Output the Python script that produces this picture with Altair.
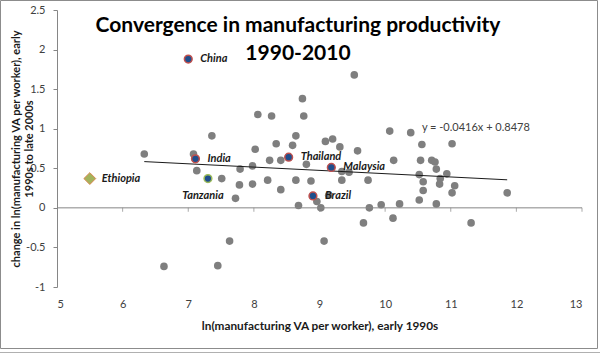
import altair as alt
import pandas as pd

# ---- data ----
gray_x = [6.33, 7.08, 7.13, 7.36, 7.51, 7.79, 7.78, 7.72, 7.63, 6.63, 7.45,
          7.98, 8.21, 8.41, 8.64, 8.68, 8.74, 8.06, 8.27, 8.76, 8.64,
          9.09, 9.20, 9.31, 8.34, 8.59, 8.02, 8.24, 8.41, 7.98, 8.80,
          8.87, 8.96, 9.02, 9.34, 9.45, 9.34, 9.74, 9.53, 10.07, 10.39,
          9.58, 10.13, 10.54, 10.52, 9.14, 9.76, 9.94, 10.22, 10.52, 9.67,
          10.12, 9.07, 10.58, 10.58, 10.78, 10.84, 10.83, 10.94, 11.06, 11.02,
          11.31, 11.86, 10.56, 11.02, 10.71, 10.76, 10.78]
gray_y = [0.68, 0.68, 0.47, 0.91, 0.37, 0.49, 0.29, 0.12, -0.42, -0.74, -0.73,
          0.30, 0.35, 0.23, 0.35, 0.03, 1.38, 1.18, 1.16, 1.16, 0.91,
          0.84, 0.87, 0.77, 0.81, 0.79, 0.74, 0.60, 0.60, 0.53, 0.55,
          0.34, 0.08, 0.00, 0.46, 0.45, 0.35, 0.35, 1.68, 0.97, 0.95,
          0.72, 0.60, 0.60, 0.42, 0.16, 0.00, 0.04, 0.05, 0.10, -0.19,
          -0.13, -0.42, 0.33, 0.22, 0.05, 0.37, 0.30, 0.43, 0.28, 0.19,
          -0.19, 0.19, 0.80, 0.81, 0.60, 0.58, 0.49]

hl_names = ["China", "India", "Thailand", "Malaysia", "Brazil"]
hl_x = [7.00, 7.11, 8.53, 9.18, 8.90]
hl_y = [1.88, 0.62, 0.64, 0.51, 0.15]

tz_names = ["Tanzania"]
tz_x = [7.30]
tz_y = [0.37]

et_names = ["Ethiopia"]
et_x = [5.50]
et_y = [0.37]

trend_slope = -0.0416
trend_intercept = 0.8478
trend_label = ["y = -0.0416x + 0.8478"]

x_ticks = [5, 6, 7, 8, 9, 10, 11, 12, 13]
y_ticks = [-1, -0.5, 0, 0.5, 1, 1.5, 2, 2.5]

title_lines = ["Convergence in manufacturing productivity", "1990-2010"]
x_title = "ln(manufacturing  VA per worker), early 1990s"
y_title = ["change  in ln(manufacturing  VA per worker), early", "1990s to late 2000s"]

FONT = "Lato"
AXIS_GRAY = "#868686"
W, H = 525, 277

gray_df = pd.DataFrame({"x": gray_x, "y": gray_y})
hl_df = pd.DataFrame({"name": hl_names, "x": hl_x, "y": hl_y})
tz_df = pd.DataFrame({"name": tz_names, "x": tz_x, "y": tz_y})
et_df = pd.DataFrame({"name": et_names, "x": et_x, "y": et_y})
tx = [min(gray_x), max(gray_x)]
trend_df = pd.DataFrame({"x": tx, "y": [trend_slope * v + trend_intercept for v in tx]})
eq_df = pd.DataFrame({"label": trend_label, "x": [10.56], "y": [1.01]})
zero_df = pd.DataFrame({"x": [x_ticks[0]], "x2": [x_ticks[-1]], "y": [0]})
tick_df = pd.DataFrame({"x": x_ticks[1:], "y": [0] * (len(x_ticks) - 1)})

xs = alt.Scale(domain=[x_ticks[0], x_ticks[-1]], nice=False, zero=False)
ys = alt.Scale(domain=[y_ticks[0], y_ticks[-1]], nice=False, zero=False)

x_axis = alt.Axis(values=x_ticks, domain=False, ticks=False, tickSize=0, grid=False,
                  labelPadding=11, labelFont=FONT, labelFontSize=11, labelColor="#404040",
                  title=x_title, titleFont=FONT, titleFontSize=11.8, titleFontWeight="bold",
                  titleColor="#1a1a1a", titleY=38, titleBaseline="middle")
y_axis = alt.Axis(values=y_ticks, domainColor=AXIS_GRAY, tickColor=AXIS_GRAY, tickSize=4,
                  grid=False, labelPadding=8, labelFont=FONT, labelFontSize=11,
                  labelColor="#404040", labelExpr="toString(datum.value)",
                  title=y_title, titleFont=FONT, titleFontSize=11, titleFontWeight="bold",
                  titleColor="#1a1a1a", titleX=-41, titleY=H / 2, titleAngle=-90,
                  titleBaseline="middle", titleAlign="center", titleLineHeight=13)


def X(field="x:Q"):
    return alt.X(field, scale=xs, axis=x_axis)


def Y(field="y:Q"):
    return alt.Y(field, scale=ys, axis=y_axis)


gray = alt.Chart(gray_df).mark_circle(size=58, color="#7f7f7f", opacity=1).encode(x=X(), y=Y())

zero_line = alt.Chart(zero_df).mark_rule(color=AXIS_GRAY, strokeWidth=1).encode(
    x=X(), x2="x2:Q", y=Y())

zero_ticks = alt.Chart(tick_df).mark_tick(orient="vertical", size=4, thickness=1,
                                          color=AXIS_GRAY, yOffset=2).encode(x=X(), y=Y())

trend = alt.Chart(trend_df).mark_line(color="#1a1a1a", strokeWidth=1).encode(x=X(), y=Y())

hl = alt.Chart(hl_df).mark_point(shape="circle", filled=True, size=60, fill="#1f4e8c",
                                 stroke="#c0504d", strokeWidth=1.5, opacity=1).encode(x=X(), y=Y())

tz = alt.Chart(tz_df).mark_point(shape="circle", filled=True, size=60, fill="#1f4e8c",
                                 stroke="#9bbb59", strokeWidth=1.5, opacity=1).encode(x=X(), y=Y())

et = alt.Chart(et_df).mark_point(shape="diamond", filled=True, size=140, fill="#a3b35c",
                                 stroke="#d9874f", strokeWidth=1, opacity=1).encode(x=X(), y=Y())

lab_style = dict(font=FONT, fontSize=11, fontWeight="bold", fontStyle="italic",
                 color="#1a1a1a", baseline="middle")
hl_lab = alt.Chart(pd.concat([hl_df, et_df])).mark_text(align="left", dx=12, **lab_style).encode(
    x=X(), y=Y(), text="name:N")
tz_lab = alt.Chart(tz_df).mark_text(align="center", dx=-5, dy=17, **lab_style).encode(
    x=X(), y=Y(), text="name:N")

eq = alt.Chart(eq_df).mark_text(align="left", baseline="middle", font=FONT, fontSize=11,
                                color="#404040").encode(x=X(), y=Y(), text="label:N")

title1 = alt.Chart(pd.DataFrame({"t": [title_lines[0]]})).mark_text(
    font=FONT, fontSize=21, fontWeight="bold", color="#000000", align="center",
    baseline="alphabetic").encode(x=alt.value(241), y=alt.value(22), text="t:N")
title2 = alt.Chart(pd.DataFrame({"t": [title_lines[1]]})).mark_text(
    font=FONT, fontSize=21, fontWeight="bold", color="#000000", align="center",
    baseline="alphabetic").encode(x=alt.value(241), y=alt.value(50), text="t:N")

frame = alt.Chart(pd.DataFrame({"a": [0]})).mark_rect(
    fill=None, stroke="#8c8c8c", strokeWidth=1).encode(
    x=alt.value(-56.5), x2=alt.value(540.5), y=alt.value(-9.5), y2=alt.value(338.5))
shadow = alt.Chart(pd.DataFrame({"a": [0]})).mark_rule(color="#b0b0b0", strokeWidth=1).encode(
    x=alt.value(-57), x2=alt.value(543), y=alt.value(342.5))

chart = alt.layer(
    gray, zero_line, zero_ticks, trend, hl, tz, et, hl_lab, tz_lab, eq, title1, title2,
    frame, shadow
).properties(
    width=W, height=H,
    background="white",
    autosize=alt.AutoSizeParams(type="none"),
    padding={"left": 57, "top": 10, "right": 18, "bottom": 67},
).configure_view(stroke=None)

chart.save("out.html", embed_options={"renderer": "svg", "actions": False})
